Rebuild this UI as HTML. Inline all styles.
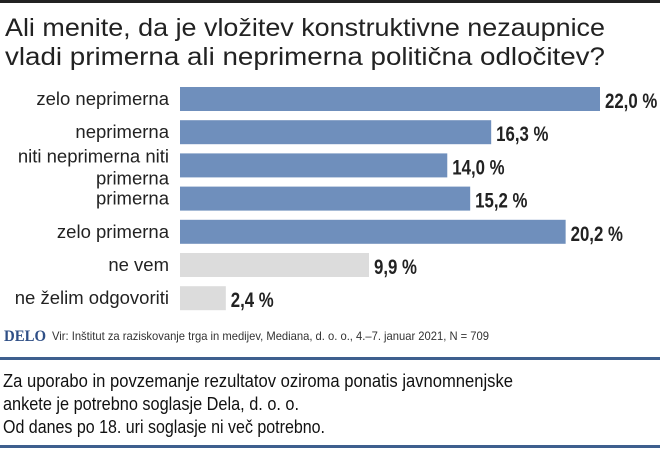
<!DOCTYPE html>
<html><head><meta charset="utf-8"><style>
body{margin:0;background:#fff}
svg{display:block}
text{font-family:"Liberation Sans","DejaVu Sans",sans-serif}
</style></head><body>
<svg width="660" height="449" viewBox="0 0 660 449">
<rect x="0" y="0" width="660" height="3" fill="#222"/>
<text x="5" y="36" font-size="25" fill="#222" textLength="600" lengthAdjust="spacingAndGlyphs">Ali menite, da je vložitev konstruktivne nezaupnice</text>
<text x="5" y="65" font-size="25" fill="#222" textLength="600" lengthAdjust="spacingAndGlyphs">vladi primerna ali neprimerna politična odločitev?</text>
<g id="bars"></g>
<text x="4" y="341" style="font-family:'Liberation Serif',serif" font-weight="bold" font-size="16" fill="#2f4f86" textLength="42" lengthAdjust="spacingAndGlyphs">DELO</text>
<text x="52" y="340" font-size="12" fill="#333" textLength="437" lengthAdjust="spacingAndGlyphs">Vir: Inštitut za raziskovanje trga in medijev, Mediana, d. o. o., 4.–7. januar 2021, N = 709</text>
<rect x="0" y="357" width="660" height="3" fill="#3e5f8e"/>
<text x="3" y="387" font-size="18" fill="#111" textLength="510" lengthAdjust="spacingAndGlyphs">Za uporabo in povzemanje rezultatov oziroma ponatis javnomnenjske</text>
<text x="3" y="410" font-size="18" fill="#111" textLength="296" lengthAdjust="spacingAndGlyphs">ankete je potrebno soglasje Dela, d. o. o.</text>
<text x="3" y="433" font-size="18" fill="#111" textLength="322" lengthAdjust="spacingAndGlyphs">Od danes po 18. uri soglasje ni več potrebno.</text>
<rect x="0" y="445" width="660" height="3" fill="#3e5f8e"/>
</svg>
<script>
const categories=["zelo neprimerna","neprimerna","niti neprimerna niti primerna","primerna","zelo primerna","ne vem","ne želim odgovoriti"];
const values=[22.0,16.3,14.0,15.2,20.2,9.9,2.4];
const valueLabels=["22,0 %","16,3 %","14,0 %","15,2 %","20,2 %","9,9 %","2,4 %"];
const isGray=[false,false,false,false,false,true,true];
const NS="http://www.w3.org/2000/svg";
const g=document.getElementById('bars');
const x0=180, pxPer=420/22;
function xs(v){return v*pxPer;}
function ys(i){return 87+i*33.2;}
const bh=24;
categories.forEach((c,i)=>{
  const y=ys(i);
  const r=document.createElementNS(NS,'rect');
  r.setAttribute('x',x0);r.setAttribute('y',y);r.setAttribute('width',xs(values[i]));r.setAttribute('height',bh);
  r.setAttribute('fill',isGray[i]?'#dcdcdc':'#6f8fbc');
  
  
  g.appendChild(r);
  const lines=c==="niti neprimerna niti primerna"?["niti neprimerna niti","primerna"]:[c];
  lines.forEach((ln,k)=>{
    const t=document.createElementNS(NS,'text');
    t.setAttribute('x',169);
    t.setAttribute('y',lines.length>1?y+9+k*22:y+18);
    t.setAttribute('text-anchor','end');t.setAttribute('font-size','18.5');t.setAttribute('fill','#222');
    t.textContent=ln;
    
    
    g.appendChild(t);
  });
  const vx=x0+xs(values[i])+5;
  const v=document.createElementNS(NS,'text');
  v.setAttribute('x',vx);v.setAttribute('y',y+21);
  v.setAttribute('font-size','21');v.setAttribute('font-weight','bold');v.setAttribute('fill','#222');
  v.setAttribute('transform','translate('+vx+',0) scale(0.8,1) translate('+(-vx)+',0)');
  v.textContent=valueLabels[i];
  
  
  g.appendChild(v);
});
</script>
</body></html>
